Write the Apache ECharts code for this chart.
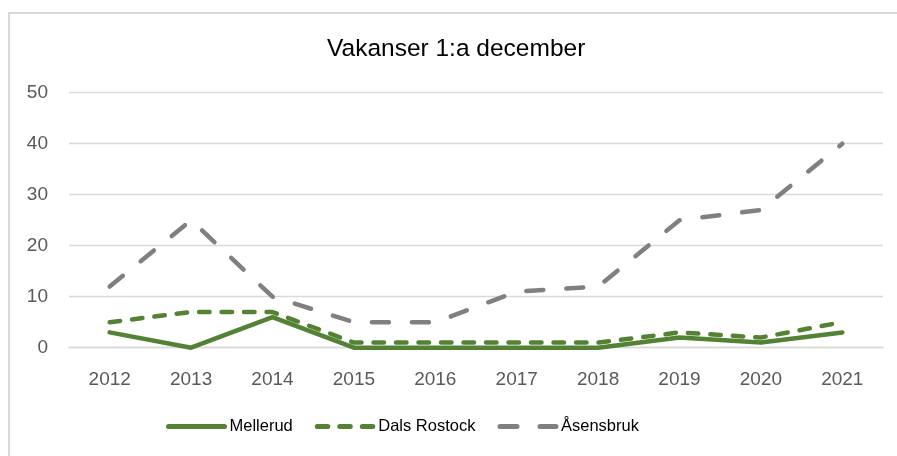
<!DOCTYPE html>
<html>
<head>
<meta charset="utf-8">
<script src="https://cdn.jsdelivr.net/npm/echarts@6/dist/echarts.min.js"></script>
<style>
html,body{margin:0;padding:0;background:#fff;}
#chart{width:897px;height:456px;}
</style>
</head>
<body>
<div id="chart"></div>
<script>
var titleText = 'Vakanser 1:a december';
var years = ['2012','2013','2014','2015','2016','2017','2018','2019','2020','2021'];
var mellerud = [3, 0, 6, 0, 0, 0, 0, 2, 1, 3];
var dalsRostock = [5, 7, 7, 1, 1, 1, 1, 3, 2, 5];
var asensbruk = [12, 25, 10, 5, 5, 11, 12, 25, 27, 40];
var yMin = 0, yMax = 50, yStep = 10;

var chart = echarts.init(document.getElementById('chart'), null, {renderer:'canvas'});
var green = '#548235', gray = '#808080';
chart.setOption({
  animation: false,
  backgroundColor: '#ffffff',
  graphic: [{
    type: 'polyline', silent: true, z: -1,
    shape: {points: [[9, 1000], [9, 13], [1000, 13]]},
    style: {fill: 'none', stroke: '#d9d9d9', lineWidth: 2}
  }],
  title: {
    text: titleText, left: 322, top: 32,
    textStyle: {fontFamily: 'Liberation Sans', fontSize: 24.5, fontWeight: 'normal', color: '#000000'}
  },
  legend: {
    top: 413, left: 161,
    itemWidth: 56, itemHeight: 16, itemGap: 22,
    itemStyle: {opacity: 0},
    lineStyle: {width: 5, cap: 'round'},
    textStyle: {fontFamily: 'Liberation Sans', fontSize: 16.5, color: '#000000'},
    data: ['Mellerud', 'Dals Rostock', 'Åsensbruk']
  },
  grid: {left: 69, right: 14, top: 92.7, bottom: 108.3, containLabel: false},
  xAxis: {
    type: 'category', data: years, boundaryGap: true,
    axisLine: {show: true, lineStyle: {color: '#d9d9d9', width: 1.3}},
    axisTick: {show: false},
    axisLabel: {fontFamily: 'Liberation Sans', fontSize: 19, color: '#595959', margin: 23}
  },
  yAxis: {
    type: 'value', min: yMin, max: yMax, interval: yStep,
    axisLine: {show: false}, axisTick: {show: false},
    splitLine: {lineStyle: {color: '#d9d9d9', width: 1.3}},
    axisLabel: {fontFamily: 'Liberation Sans', fontSize: 19, color: '#595959', margin: 21}
  },
  series: [
    {name: 'Mellerud', type: 'line', data: mellerud, symbol: 'none',
     itemStyle: {color: green},
     lineStyle: {color: green, width: 4.5, cap: 'round', join: 'round'}, z: 3},
    {name: 'Dals Rostock', type: 'line', data: dalsRostock, symbol: 'none',
     itemStyle: {color: green},
     lineStyle: {color: green, width: 4.5, type: [10.5, 12], cap: 'round', join: 'round'}, z: 2},
    {name: 'Åsensbruk', type: 'line', data: asensbruk, symbol: 'none',
     itemStyle: {color: gray},
     lineStyle: {color: gray, width: 4.5, type: [17, 23], cap: 'round', join: 'round'}, z: 1}
  ]
});
</script>
</body>
</html>
